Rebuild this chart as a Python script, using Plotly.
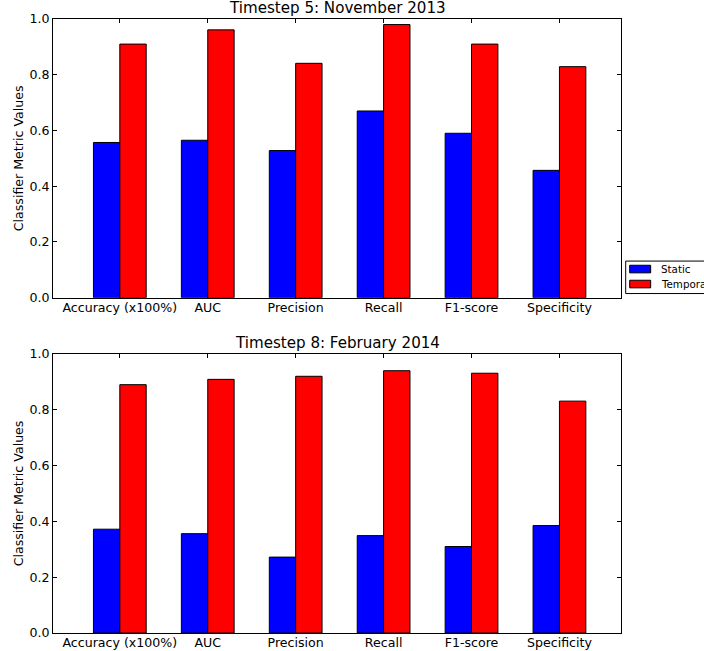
import plotly.graph_objects as go

categories = ["Accuracy (x100%)", "AUC", "Precision", "Recall", "F1-score", "Specificity"]
static_nov2013 = [0.557, 0.565, 0.528, 0.670, 0.590, 0.457]
temporal_nov2013 = [0.910, 0.961, 0.841, 0.980, 0.910, 0.829]
static_feb2014 = [0.372, 0.356, 0.272, 0.349, 0.310, 0.385]
temporal_feb2014 = [0.890, 0.909, 0.920, 0.940, 0.931, 0.831]
titles = ["Timestep 5: November 2013", "Timestep 8: February 2014"]
series_names = ["Static", "Temporal"]
series_colors = ["#0000ff", "#ff0000"]
yticks = [0.0, 0.2, 0.4, 0.6, 0.8, 1.0]

BAR_W = 0.3
FONT = "DejaVu Sans"
W, H = 704, 651
# plot area in window pixels: x 52.7..621.3, y 18.7..633.3
ML = 52.7
MT = 18.7
MR = W - 621.3
MB = H - 633.3
idx = list(range(len(categories)))

fig = go.Figure()
panels = [(static_nov2013, temporal_nov2013, "x", "y"), (static_feb2014, temporal_feb2014, "x2", "y2")]
for p, (s_vals, t_vals, xa, ya) in enumerate(panels):
    fig.add_trace(go.Bar(x=[i + BAR_W / 2 for i in idx], y=s_vals, width=BAR_W, name=series_names[0],
                         marker=dict(color=series_colors[0], line=dict(color="black", width=1)),
                         xaxis=xa, yaxis=ya, showlegend=False))
    fig.add_trace(go.Bar(x=[i + 1.5 * BAR_W for i in idx], y=t_vals, width=BAR_W, name=series_names[1],
                         marker=dict(color=series_colors[1], line=dict(color="black", width=1)),
                         xaxis=xa, yaxis=ya, showlegend=False))

axis_common = dict(showline=True, linecolor="black", linewidth=1, mirror="allticks",
                   ticks="inside", ticklen=4, tickcolor="black", showgrid=False, zeroline=False,
                   tickfont=dict(family=FONT, size=12.6, color="black"))
xcommon = dict(axis_common, range=[-0.46, 6.0], tickvals=[i + BAR_W for i in idx], ticktext=categories,
               ticklabelstandoff=-2)
ycommon = dict(axis_common, range=[0, 1.0], tickvals=yticks, ticktext=[f"{v:.1f}" for v in yticks],
               title=dict(text="Classifier Metric Values", font=dict(family=FONT, size=12.6, color="black"), standoff=3))

pw, ph = W - ML - MR, H - MT - MB
def px(xp):
    return (xp - ML) / pw
def py(yp):
    return (H - MB - yp) / ph

top_dom = [py(297.7), 1.0]
bot_dom = [0.0, py(354.0)]

shapes = [dict(type="rect", xref="paper", yref="paper", x0=px(626), x1=px(720), y0=py(293.5), y1=py(261),
               line=dict(color="black", width=1), fillcolor="white", layer="above")]
annotations = [
    dict(text=titles[0], x=0.5, y=top_dom[1], xref="paper", yref="paper", xanchor="center",
         yanchor="bottom", showarrow=False, font=dict(family=FONT, size=15.1, color="black")),
    dict(text=titles[1], x=0.5, y=bot_dom[1], xref="paper", yref="paper", xanchor="center",
         yanchor="bottom", showarrow=False, font=dict(family=FONT, size=15.1, color="black")),
]
for k, (nm, col) in enumerate(zip(series_names, series_colors)):
    yc = 269 + 15 * k
    shapes.append(dict(type="rect", xref="paper", yref="paper", x0=px(630), x1=px(651),
                       y0=py(yc + 3.8), y1=py(yc - 3.8), line=dict(color="black", width=1),
                       fillcolor=col, layer="above"))
    annotations.append(dict(text=nm, x=px(659), y=py(yc), xref="paper", yref="paper", xanchor="left",
                            yanchor="middle", showarrow=False,
                            font=dict(family=FONT, size=10.3, color="black")))

fig.update_layout(
    width=W, height=H,
    margin=dict(l=ML, r=MR, t=MT, b=MB, autoexpand=False),
    paper_bgcolor="white", plot_bgcolor="white",
    barmode="overlay", showlegend=False,
    font=dict(family=FONT, size=12, color="black"),
    xaxis=dict(xcommon, anchor="y", domain=[0, 1]),
    yaxis=dict(ycommon, anchor="x", domain=top_dom),
    xaxis2=dict(xcommon, anchor="y2", domain=[0, 1]),
    yaxis2=dict(ycommon, anchor="x2", domain=bot_dom),
    shapes=shapes,
    annotations=annotations,
)

fig.write_html("out.html", config={"displayModeBar": False},
               post_script="document.body.style.margin='0';document.body.style.overflow='hidden';")
